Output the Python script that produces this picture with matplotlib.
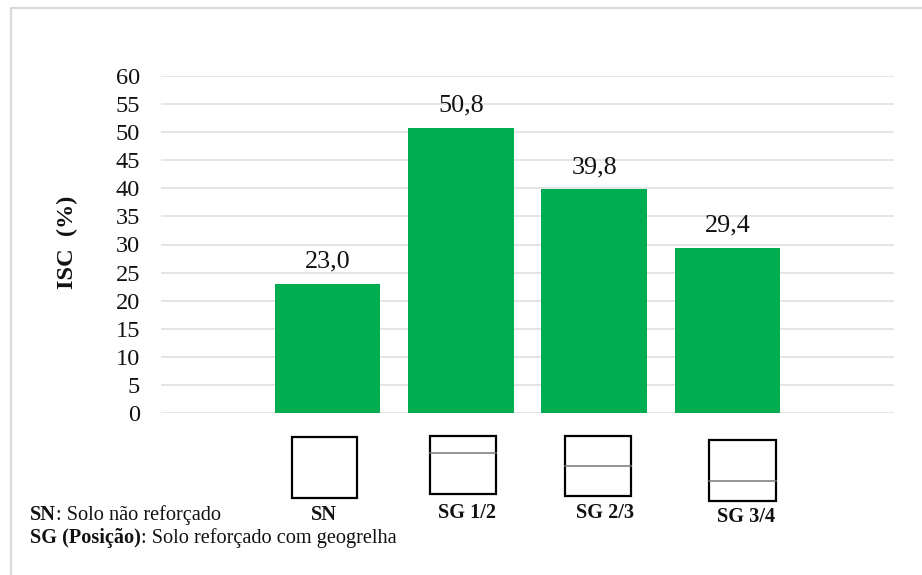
import matplotlib
matplotlib.use("Agg")
import matplotlib.pyplot as plt
from matplotlib.lines import Line2D
from matplotlib.patches import Rectangle

W, H = 922, 575

categories = ["SN", "SG 1/2", "SG 2/3", "SG 3/4"]
values = [23.0, 50.8, 39.8, 29.4]
y_ticks = list(range(0, 65, 5))
y_label = "ISC  (%)"

GREEN = "#00AD50"
GRID = "#DEDEDE"
INK = "#111111"


def fx(px):
    return px / W


def fy(py):
    return 1 - py / H


def draw_section(fig, x0, y0, x1, y1, geogrid_y=None):
    # little cross-section sketch under each bar, given in pixels of the image
    fig.add_artist(Rectangle((fx(x0), fy(y1)), fx(x1) - fx(x0), fy(y0) - fy(y1),
                             transform=fig.transFigure, fill=False,
                             edgecolor="black", linewidth=1.6))
    if geogrid_y is not None:
        fig.add_artist(Line2D([fx(x0), fx(x1)], [fy(geogrid_y), fy(geogrid_y)],
                              transform=fig.transFigure, color="#777777", linewidth=1.1))


def bold_then_plain(fig, renderer, px, py, bold, plain, size):
    t = fig.text(fx(px), fy(py), bold, ha="left", va="center", fontsize=size,
                 fontweight="bold", color=INK)
    fig.text(t.get_window_extent(renderer).x1 / W, fy(py), plain, ha="left", va="center",
             fontsize=size, color=INK)


def main():
    plt.rcParams["font.family"] = ["Liberation Serif", "DejaVu Serif"]

    fig = plt.figure(figsize=(W / 100, H / 100), dpi=100, facecolor="white")
    ax = fig.add_axes([fx(161), fy(413), fx(894) - fx(161), fy(76) - fy(413)])

    xs = list(range(len(categories)))
    ax.bar(xs, values, width=0.79, color=GREEN, zorder=3)
    for x, v in zip(xs, values):
        ax.annotate(f"{v:.1f}".replace(".", ","), (x, v), xytext=(0, 8),
                    textcoords="offset points", ha="center", va="bottom",
                    fontsize=18.8, color=INK)

    ax.set_xlim(-1.25, 4.25)
    ax.set_ylim(0, 60)
    ax.set_xticks([])
    ax.set_yticks(y_ticks)
    ax.tick_params(axis="y", length=0, pad=15, labelsize=17.6, labelcolor=INK)
    ax.grid(True, axis="y", color=GRID, linewidth=1.1, zorder=0)
    ax.set_axisbelow(True)
    for s in ax.spines.values():
        s.set_visible(False)
    ax.patch.set_alpha(0)

    fig.text(fx(67), fy(242), y_label, rotation=90, ha="center", va="center",
             fontsize=17.6, fontweight="bold", color=INK)

    # page frame, only top and left are visible
    fig.add_artist(Line2D([fx(11), fx(11), 1], [0, fy(8), fy(8)],
                          transform=fig.transFigure, color="#DADADA", linewidth=1.6))

    draw_section(fig, 292, 437, 357, 498)
    draw_section(fig, 429.5, 436, 496, 494, 452.5)
    draw_section(fig, 564.5, 436, 631, 496, 465.5)
    draw_section(fig, 709, 440, 776, 500.5, 481)

    label_pos = [(324, 515), (467, 513), (605, 513), (746, 517)]
    for name, (px, py) in zip(categories, label_pos):
        fig.text(fx(px), fy(py), name, ha="center", va="center",
                 fontsize=14.6, fontweight="bold", color=INK)

    fig.canvas.draw()
    r = fig.canvas.get_renderer()
    bold_then_plain(fig, r, 30, 515, "SN", ": Solo não reforçado", 14.6)
    bold_then_plain(fig, r, 30, 538, "SG (Posição)", ": Solo reforçado com geogrelha", 14.6)

    fig.savefig("out.png", dpi=100)


if __name__ == "__main__":
    main()
